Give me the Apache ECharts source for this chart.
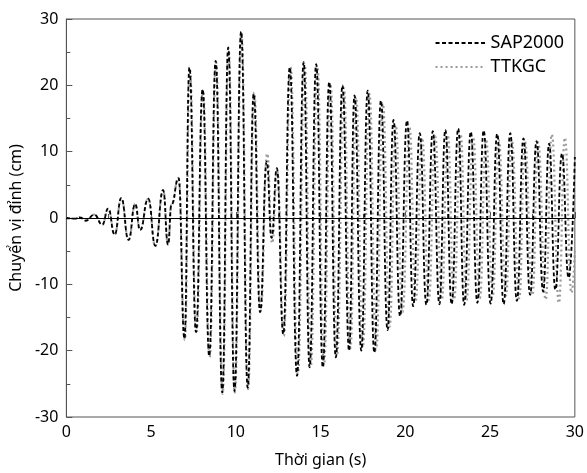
<!DOCTYPE html>
<html>
<head>
<meta charset="utf-8">
<script src="https://cdn.jsdelivr.net/npm/echarts@6/dist/echarts.min.js"></script>
<style>
  html, body { margin: 0; padding: 0; background: #fff; }
  #chart { width: 587px; height: 473px; }
</style>
</head>
<body>
<div id="chart"></div>
<script>
// đỉnh / đáy (s, cm)
const sapTime = [0, 0.5, 0.8, 1.15, 1.65, 2.12, 2.47, 2.85, 3.24, 3.67, 4.06, 4.35, 4.83, 5.25, 5.71, 6.0, 6.2, 6.62,
  6.97, 7.26, 7.65, 8.04, 8.43, 8.81, 9.2, 9.55, 9.92, 10.31, 10.7, 11.05, 11.43, 11.82, 12.11, 12.42, 12.8,
  13.18, 13.61, 14.0, 14.35, 14.74, 15.13, 15.51, 15.9, 16.29, 16.68, 17.0, 17.4, 17.78, 18.17, 18.56, 18.95,
  19.3, 19.69, 20.1, 20.46, 20.85, 21.24, 21.62, 22.01, 22.36, 22.73, 23.12, 23.47, 23.86, 24.25, 24.62, 25.03,
  25.42, 25.8, 26.19, 26.58, 26.97, 27.36, 27.74, 28.13, 28.48, 28.85, 29.24, 29.63, 30.0]
const sapDisp = [0, -0.1, 0.1, -0.4, 0.5, -1.0, 1.4, -2.5, 3.0, -3.3, 2.1, -1.8, 2.9, -4.2, 4.2, -4.0, 2.0, 6.0,
  -18.2, 22.7, -17.2, 19.4, -20.8, 23.7, -26.3, 25.7, -26.1, 28.1, -25.6, 18.7, -14.2, 8.5, -3.0, 7.5, -17.5,
  22.7, -23.8, 23.5, -22.5, 23.2, -22.5, 20.5, -21.0, 20.0, -20.0, 18.5, -20.0, 19.2, -20.3, 17.7, -16.9,
  14.8, -14.8, 14.7, -13.3, 12.8, -13.1, 13.1, -13.0, 13.3, -13.0, 13.5, -13.1, 13.0, -12.8, 13.2, -12.9,
  12.7, -13.0, 12.8, -12.5, 12.0, -11.6, 11.6, -11.1, 11.2, -10.8, 9.7, -9.0, 9.2]

const ttkTime = [0, 0.5, 0.8, 1.15, 1.65, 2.12, 2.47, 2.85, 3.24, 3.67, 4.06, 4.35, 4.83, 5.25, 5.71, 6.0, 6.2, 6.62,
  6.99, 7.28, 7.67, 8.06, 8.45, 8.83, 9.22, 9.57, 9.94, 10.33, 10.72, 11.08, 11.46, 11.85, 12.14, 12.44, 12.83,
  13.22, 13.66, 14.06, 14.42, 14.81, 15.2, 15.58, 15.97, 16.37, 16.76, 17.09, 17.49, 17.88, 18.28, 18.67, 19.07,
  19.43, 19.83, 20.25, 20.6, 20.99, 21.38, 21.76, 22.15, 22.5, 22.87, 23.26, 23.61, 24.0, 24.39, 24.76, 25.16,
  25.5, 25.94, 26.27, 26.72, 27.05, 27.5, 27.83, 28.28, 28.64, 29.06, 29.41, 29.8, 30.0]
const ttkDisp = [0, -0.1, 0.1, -0.4, 0.5, -1.0, 1.4, -2.5, 3.0, -3.3, 2.1, -1.8, 2.9, -4.2, 4.2, -4.0, 2.0, 6.0,
  -18.4, 22.5, -17.4, 19.3, -21.0, 23.5, -26.5, 25.5, -26.3, 27.8, -25.8, 18.9, -14.0, 9.7, -3.8, 7.0, -17.8,
  22.8, -23.5, 23.2, -22.3, 22.8, -22.2, 20.2, -20.6, 19.6, -19.6, 18.2, -19.5, 18.7, -19.8, 17.2, -16.4,
  14.0, -14.2, 13.6, -12.6, 12.1, -12.4, 12.3, -12.3, 12.5, -12.3, 12.6, -12.4, 12.2, -12.1, 11.8, -11.6,
  11.8, -11.7, 11.8, -12.1, 11.6, -11.6, 11.4, -12.3, 12.6, -12.8, 12.1, -11.3, -5.0]

const font = '"Noto Sans", sans-serif'
const chart = echarts.init(document.getElementById('chart'))

chart.setOption({
  animation: false,
  backgroundColor: '#fff',
  grid: {
    left: 62, right: 10, top: 19, bottom: 56,
    show: true, borderColor: '#555', borderWidth: 1
  },
  legend: {
    data: ['SAP2000', 'TTKGC'],
    orient: 'vertical',
    right: 18,
    top: 29,
    itemWidth: 50,
    itemHeight: 12,
    itemGap: 6,
    itemStyle: { opacity: 0 },
    textStyle: { fontFamily: font, fontSize: 18, color: '#000' }
  },
  xAxis: {
    type: 'value',
    min: 0, max: 30, interval: 5,
    name: 'Thời gian (s)',
    nameLocation: 'middle',
    nameGap: 35,
    nameTextStyle: { fontFamily: font, fontSize: 16, color: '#000' },
    axisLine: { lineStyle: { color: '#555', width: 1 } },
    axisTick: { inside: true, length: 6, lineStyle: { color: '#555' } },
    minorTick: { show: true, splitNumber: 2, length: 4, lineStyle: { color: '#555' } },
    axisLabel: { fontFamily: font, fontSize: 16, color: '#000', margin: 7 },
    splitLine: { show: false }
  },
  yAxis: {
    type: 'value',
    min: -30, max: 30, interval: 10,
    name: 'Chuyển vị đỉnh (cm)',
    nameLocation: 'middle',
    nameGap: 42,
    nameTextStyle: { fontFamily: font, fontSize: 16, color: '#000' },
    axisLine: { lineStyle: { color: '#555', width: 1 } },
    axisTick: { inside: true, length: 6, lineStyle: { color: '#555' } },
    minorTick: { show: true, splitNumber: 2, length: 4, lineStyle: { color: '#555' } },
    axisLabel: { fontFamily: font, fontSize: 16, color: '#000', margin: 8 },
    splitLine: { show: false }
  },
  series: [
    {
      name: 'TTKGC',
      type: 'line',
      data: ttkTime.map((t, i) => [t, ttkDisp[i]]),
      symbol: 'none',
      smooth: 0.5,
      smoothMonotone: 'x',
      lineStyle: { color: '#999', width: 2.2, type: [2, 3] },
      itemStyle: { color: '#999' }
    },
    {
      name: 'SAP2000',
      type: 'line',
      data: sapTime.map((t, i) => [t, sapDisp[i]]),
      symbol: 'none',
      smooth: 0.5,
      smoothMonotone: 'x',
      lineStyle: { color: '#000', width: 1.8, type: [4, 2.5] },
      itemStyle: { color: '#000' },
      markLine: {
        silent: true,
        symbol: ['none', 'none'],
        label: { show: false },
        lineStyle: { color: '#000', type: 'solid', width: 1 },
        data: [{ yAxis: 0 }]
      }
    }
  ]
})
</script>
</body>
</html>
